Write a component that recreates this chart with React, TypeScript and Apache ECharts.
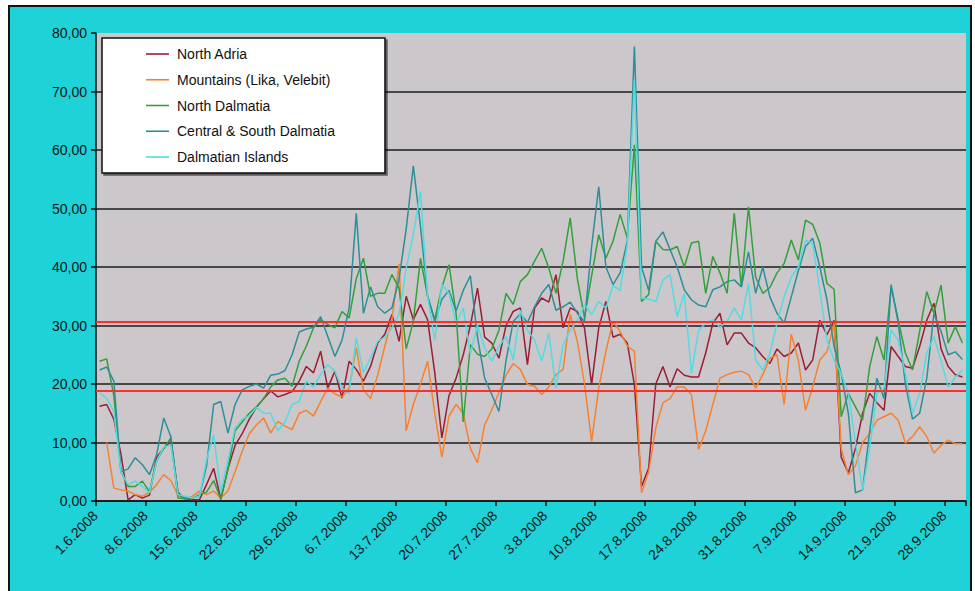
import React, { useEffect, useRef } from "react";
import * as echarts from "echarts";

// ---- data -------------------------------------------------------------
const startYear = 2008;
const startMonthIndex = 5; // June
const startDay = 1;
const dayCount = 122;

const categories: string[] = [];
for (let k = 0; k < dayCount; k++) {
  const d = new Date(Date.UTC(startYear, startMonthIndex, startDay + k));
  categories.push(`${d.getUTCDate()}.${d.getUTCMonth() + 1}.${d.getUTCFullYear()}`);
}

const seriesNames = [
  "North Adria",
  "Mountains (Lika, Velebit)",
  "North Dalmatia",
  "Central & South Dalmatia",
  "Dalmatian Islands",
];

const northAdria = [
  16.2, 16.5, 14, 8, 0.2, 1.1, 0.5, 1.0, 7.5, 9,
  10.2, 1.5, 0.3, 0.2, 0.2, 2.8, 5.6, 0.3, 5.5, 9.5,
  11.5, 14, 16, 17.5, 18.8, 17.8, 18.2, 18.7, 20.5, 23,
  21.9, 25.6, 19.3, 22.2, 17.6, 23.9, 22.5, 20.5, 23, 27,
  28.5, 31.9, 27.3, 35, 31, 33.6, 31, 22, 10.8, 18,
  21, 25, 30, 36.4, 28, 27, 24.4, 30, 32.4, 33,
  23.3, 33, 34.7, 34, 38.7, 29.6, 33, 32.4, 29.6, 19.9,
  29.6, 34.1, 28, 28.5, 27, 19.9, 2.5, 5.6, 20, 23,
  19.5, 22.6, 21.5, 21.2, 21.2, 25.3, 30.4, 32.1, 26.7, 28.7,
  28.7, 27, 26.2, 24.7, 23.5, 26, 24.7, 25.3, 27, 22.4,
  24.1, 30.9, 28.4, 30.9, 7.5, 4.8, 9, 15, 18.4, 16.8,
  15.5, 26.4, 24.7, 23, 22.7, 26.4, 30.9, 33.8, 26, 23,
  21.6, 21.2,
];

const mountains = [
  null, 10, 2.2, 1.9, 1.7, 1.1, 0.8, 1.5, 2.8, 4.5,
  3.5, 1, 0.3, 0.8, 1.7, 1.1, 1.7, 0.5, 1.7, 5,
  8.5, 11.5, 13, 14.2, 11.6, 13.6, 12.8, 12.2, 15, 15.5,
  14.5, 17, 19.3, 18.3, 17.8, 19.3, 26.2, 19, 17.5, 21.5,
  26.5, 31, 40.5, 12, 16.5, 20, 23.9, 15, 7.5, 14.5,
  16.5, 15, 9, 6.5, 13, 15.6, 18.5, 21.5, 23.5, 22.5,
  19.9, 19.6, 18.2, 19.5, 21.6, 22.5, 31.9, 27.3, 20, 10.2,
  19.3, 25.6, 30.7, 29, 26.5, 25.6, 1.4, 5, 12.5, 16.8,
  17.5, 19.5, 19.5, 18.2, 8.8, 12, 16.5, 21, 21.6, 22,
  22.2, 21.6, 19.3, 21.6, 24.4, 25, 16.5, 28.5, 24, 15.5,
  19.5, 24.1, 25.5, 30.4, 9, 4.5, 6, 10, 11.5, 13.8,
  14.4, 15, 13.8, 9.9, 11, 12.7, 11, 8.2, 9.5, 10.4,
  9.8, 9.8,
];

const northDalmatia = [
  23.9, 24.3, 18, 5, 2.5, 2.5, 3.4, 1.6, 6.8, 9,
  10.8, 0.5, 0.4, 0.4, 1.1, 1.5, 3.5, 0.3, 5.5, 12,
  13.5, 15, 16.1, 17.5, 19.5, 20.7, 21, 19.6, 23.9, 26.5,
  29.6, 31, 30.2, 29.6, 32.4, 31.3, 38, 41.5, 35, 35.5,
  35.5, 38.7, 36.4, 26, 30.7, 41.5, 35, 31, 36.5, 40.4,
  32, 13.5, 26.7, 25.1, 24.7, 26, 29.2, 35.5, 33.6, 37.5,
  38.7, 41, 43.2, 39.8, 35.5, 41, 48.4, 38, 31.3, 38.5,
  45.5, 41.5, 44.4, 49, 45, 60.9, 34.1, 35.3, 44.4, 43,
  42.9, 43.5, 40, 44.1, 44.4, 35.5, 41.8, 39, 35.5, 49.2,
  36.6, 50.3, 38.3, 35.5, 36.5, 39, 40.6, 44.6, 41.2, 48,
  47.3, 44.1, 37.2, 36.2, 14.4, 18.4, 16.1, 13.8, 23, 28.1,
  24.1, 36.6, 30.9, 25.3, 22.4, 29, 35.8, 32.1, 36.9, 27,
  29.8, 27,
];

const centralSouthDalmatia = [
  22.4, 22.9, 20.5, 5, 5.5, 7.4, 6.2, 4.5, 7.9, 14.2,
  11, 1.1, 0.5, 0.5, 0.8, 6, 16.5, 17, 11.6, 16.5,
  19, 19.6, 20, 19.3, 21.5, 21.7, 22.3, 25, 28.9, 29.4,
  29.7, 31.5, 28.1, 24.7, 27.5, 33, 49.2, 32.1, 36.6, 33.2,
  32.1, 33, 38, 46.5, 57.3, 47, 35, 30.7, 34.5, 36,
  32.5, 36, 38.5, 28, 21, 18.2, 15.3, 24, 30.7, 32,
  30.5, 33.2, 35.5, 37, 32.6, 33.2, 34, 32.1, 30.7, 43.5,
  53.7, 40, 37, 39, 44.4, 77.7, 40, 36, 44.4, 46,
  43, 40, 36.1, 34.4, 33.5, 33.2, 36.1, 36.6, 37.5, 37.8,
  36.6, 42.6, 35.5, 40, 34.9, 32.1, 30.4, 34.9, 39.4, 43.5,
  44.9, 40, 34.4, 26.4, 21.8, 15, 1.4, 1.9, 12, 21,
  17.5, 37, 30.4, 20, 14, 15, 21, 32, 29, 25,
  25.5, 24.2,
];

const dalmatianIslands = [
  18.5, 17.6, 15.3, 5, 2.8, 3.4, 2.5, 1.4, 6.8, 9.2,
  9.6, 1.1, 0.8, 0.5, 0.8, 7, 11.3, 1.5, 7, 12.5,
  14, 14.5, 16, 15, 15, 12, 13.5, 16.5, 17, 20.5,
  19.5, 21.6, 23.3, 22.2, 19.3, 18.4, 27.9, 22, 24.4, 27.3,
  28, 29.6, 31.9, 39.8, 45.5, 52.9, 35, 27.5, 37, 35.5,
  30.4, 33, 25.2, 30, 26.2, 23.9, 26.4, 28.1, 24.1, 32.6,
  29.2, 27.5, 23.9, 28.7, 19.3, 26.7, 29.2, 30.9, 33.6, 31.9,
  34.1, 33, 36.8, 36, 43.8, 72, 34.7, 34.5, 34.1, 37.8,
  38.7, 31.5, 35.5, 21.8, 29.2, 30.4, 31, 29.7, 30.7, 33,
  30.9, 37.2, 24.1, 22.4, 25.3, 30.4, 34.9, 38.3, 40, 44.6,
  44, 36.1, 27.5, 24.1, 21.8, 18.4, 10, 1.8, 9, 18.4,
  19.3, 29.2, 27.5, 21.8, 15, 18.4, 25.3, 28.1, 24, 19.5,
  21.1, 22.4,
];

const seriesValues = [northAdria, mountains, northDalmatia, centralSouthDalmatia, dalmatianIslands];
const seriesColors = ["#9A1E35", "#F7812F", "#33A03A", "#2D8F98", "#52DCE2"];

const redLines = [30.7, 18.9];

const yMin = 0;
const yMax = 80;
const yStep = 10;

// ---- component --------------------------------------------------------
export default function App() {
  const ref = useRef<HTMLDivElement>(null);

  useEffect(() => {
    if (!ref.current) return;
    const chart = echarts.init(ref.current, undefined, { renderer: "svg" });

    const gridLineColors: string[] = [];
    for (let v = yMin; v <= yMax; v += yStep) {
      gridLineColors.push(v === yMax ? "rgba(0,0,0,0)" : "#1c1c1c");
    }

    const series: any[] = seriesNames.map((name, idx) => ({
      type: "line",
      name,
      data: seriesValues[idx],
      symbol: "none",
      showSymbol: false,
      connectNulls: false,
      lineStyle: { width: 1.5, color: seriesColors[idx] },
      itemStyle: { color: seriesColors[idx] },
      emphasis: { disabled: true },
      z: 3,
    }));

    series[0].markLine = {
      silent: true,
      symbol: ["none", "none"],
      label: { show: false },
      lineStyle: { color: "#FF2D2D", width: 2.2, type: "solid" },
      emphasis: { disabled: true },
      data: redLines.map((v) => ({ yAxis: v })),
    };

    chart.setOption({
      animation: false,
      backgroundColor: "transparent",
      textStyle: { fontFamily: "Arial" },
      grid: {
        left: 96,
        right: 9,
        top: 33,
        bottom: 90,
        show: true,
        backgroundColor: "#CBC7CB",
        borderWidth: 0,
      },
      legend: {
        orient: "vertical",
        left: 102,
        top: 38,
        padding: [9, 50, 9, 44],
        itemGap: 11.75,
        itemWidth: 23,
        itemHeight: 14,
        icon: "path://M0 0H23V1.6H0Z",
        backgroundColor: "#ffffff",
        borderColor: "#111111",
        borderWidth: 1.5,
        shadowColor: "rgba(0,0,0,0.55)",
        shadowOffsetX: 2,
        shadowOffsetY: 2,
        shadowBlur: 1,
        selectedMode: false,
        textStyle: { fontSize: 14, color: "#111", fontFamily: "Arial", padding: [0, 0, 0, 3] },
        data: seriesNames,
      },
      xAxis: {
        type: "category",
        data: categories,
        boundaryGap: true,
        axisLine: { show: true, lineStyle: { color: "#111", width: 1.5 } },
        axisTick: { show: true, interval: 6, length: 5, lineStyle: { color: "#111", width: 1.5 } },
        axisLabel: {
          interval: 6,
          rotate: 45,
          fontSize: 14,
          color: "#141414",
          fontFamily: "Arial",
          margin: 8,
          padding: [0, 6, 0, 0],
        },
        splitLine: { show: false },
      },
      yAxis: {
        type: "value",
        min: yMin,
        max: yMax,
        interval: yStep,
        axisLine: { show: true, lineStyle: { color: "#111", width: 1.5 } },
        axisTick: { show: true, length: 5, lineStyle: { color: "#111", width: 1.5 } },
        axisLabel: {
          fontSize: 14,
          color: "#141414",
          fontFamily: "Arial",
          margin: 9,
          formatter: (v: number) => v.toFixed(2).replace(".", ","),
        },
        splitLine: { show: true, lineStyle: { color: gridLineColors, width: 1.6 } },
      },
      series,
    });

    return () => chart.dispose();
  }, []);

  return (
    <div style={{ position: "fixed", left: 0, top: 0, width: 975, height: 591, background: "#ffffff", overflow: "hidden" }}>
      <div
        style={{
          position: "absolute",
          left: 8,
          top: 5,
          width: 964,
          height: 600,
          boxSizing: "border-box",
          border: "2px solid #111",
          background: "#1ED2D8",
        }}
      />
      <div ref={ref} style={{ position: "absolute", left: 0, top: 0, width: 975, height: 591 }} />
    </div>
  );
}
